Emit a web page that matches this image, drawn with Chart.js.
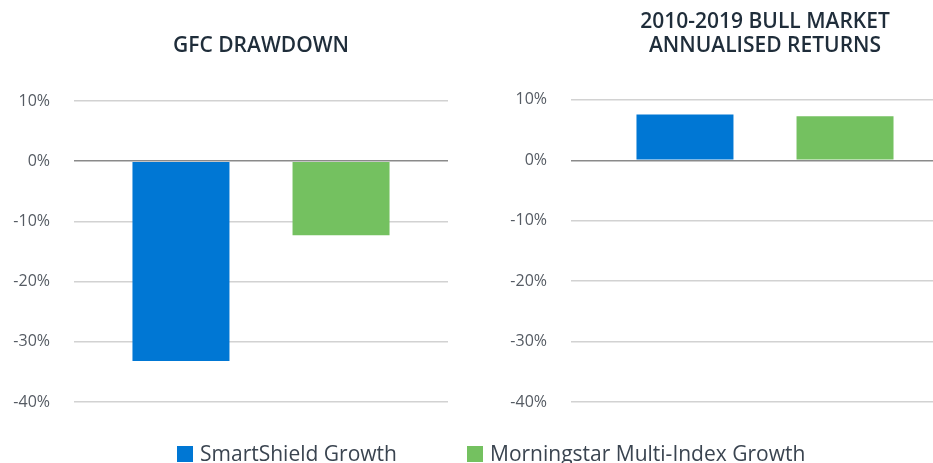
<!DOCTYPE html>
<html>
<head>
<meta charset="utf-8">
<script src="https://cdn.jsdelivr.net/npm/chart.js@4"></script>
<style>
  html, body { margin: 0; padding: 0; background: #fff; overflow: hidden; }
  body { width: 933px; height: 463px; position: relative; font-family: "Open Sans", sans-serif; }
  #left { position: absolute; left: 0; top: 0; }
  #right { position: absolute; left: 497px; top: 0; }
  #legend { position: absolute; top: 441px; left: 0; width: 933px; height: 24px; }
  .item { position: absolute; top: 0; font-size: 21px; color: #3a4450; white-space: nowrap; line-height: 24px; }
  .box { display: inline-block; width: 16px; height: 16px; vertical-align: -1px; margin-right: 7px; }
</style>
</head>
<body>
<canvas id="left" width="460" height="440"></canvas>
<canvas id="right" width="462" height="440"></canvas>
<div id="legend"></div>
<script>
const seriesNames = ['SmartShield Growth', 'Morningstar Multi-Index Growth'];
const seriesColors = ['#0077d4', '#74c160'];
const gfcDrawdown = [-33.2, -12.3];
const bullReturns = [7.6, 7.3];
const tickValues = [10, 0, -10, -20, -30, -40];

Chart.defaults.font.family = '"Open Sans", sans-serif';
Chart.defaults.animation = false;

function makeChart(id, title, values, catPct, titleTop, titleGap, padRight) {
    return new Chart(document.getElementById(id), {
        type: 'bar',
        data: {
            labels: [''],
            datasets: seriesNames.map((name, i) => ({
                label: name,
                data: [values[i]],
                backgroundColor: seriesColors[i],
                barPercentage: 0.606,
                categoryPercentage: catPct
            }))
        },
        options: {
            responsive: false,
            layout: { padding: { top: titleTop, right: padRight, left: 0, bottom: 38 } },
            plugins: {
                legend: { display: false },
                tooltip: { enabled: false },
                title: {
                    display: true,
                    fullSize: false,
                    text: title,
                    color: '#1f2d3a',
                    font: { size: 21, weight: '600', lineHeight: 1.14 },
                    padding: { top: 0, bottom: titleGap }
                }
            },
            scales: {
                x: { display: false },
                y: {
                    min: -40,
                    max: 10,
                    afterBuildTicks: s => { s.ticks = tickValues.map(v => ({ value: v })); },
                    afterFit: s => { s.width = 74; },
                    border: { display: false },
                    grid: {
                        drawTicks: false,
                        lineWidth: 1.5,
                        color: c => c.tick && c.tick.value === 0 ? '#8a8a8a' : '#d2d2d2'
                    },
                    ticks: {
                        padding: 24,
                        color: '#555b63',
                        font: { size: 16 },
                        callback: v => v + '%'
                    }
                }
            }
        }
    });
}

makeChart('left', 'GFC DRAWDOWN', gfcDrawdown, 0.856, 34, 43, 12);
makeChart('right', ['2010-2019 BULL MARKET', 'ANNUALISED RETURNS'], bullReturns, 0.825, 10, 42, 0);

const legendX = [177, 467];
const legend = document.getElementById('legend');
seriesNames.forEach((name, i) => {
    const el = document.createElement('div');
    el.className = 'item';
    el.style.left = legendX[i] + 'px';
    el.innerHTML = '<span class="box" style="background:' + seriesColors[i] + '"></span>' + name;
    legend.appendChild(el);
});
</script>
</body>
</html>
